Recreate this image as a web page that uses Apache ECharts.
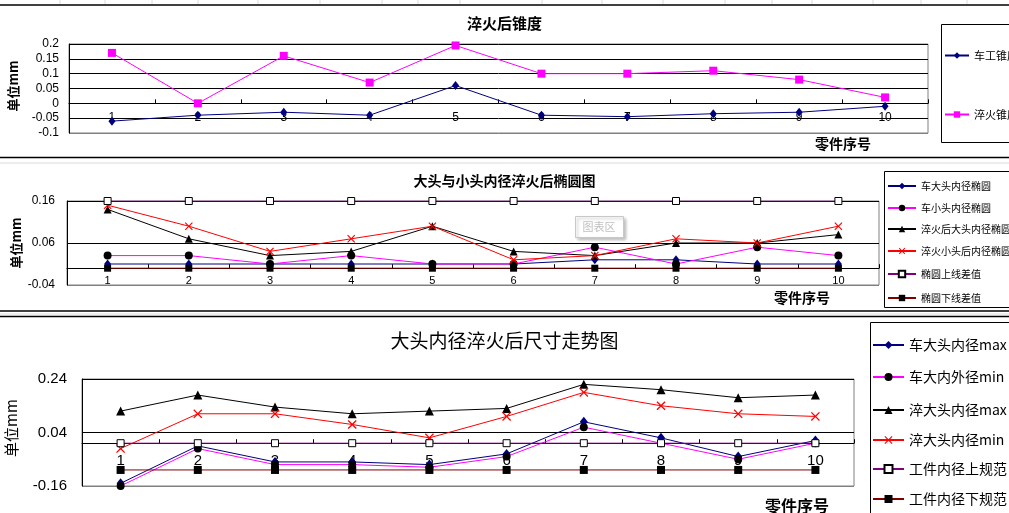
<!DOCTYPE html>
<html>
<head>
<meta charset="utf-8">
<script src="https://cdn.jsdelivr.net/npm/echarts@6/dist/echarts.min.js"></script>
<style>html,body{margin:0;padding:0;background:#fff;}#c{width:1009px;height:513px;}</style>
</head>
<body>
<div id="c"></div>
<script>
// ---------- data ----------
const categories = ['1','2','3','4','5','6','7','8','9','10'];

// Panel 1: 淬火后锥度
const taperTurning = [-0.06,-0.04,-0.03,-0.04,0.06,-0.04,-0.045,-0.035,-0.03,-0.01];
const taperQuench  = [0.17,0,0.16,0.07,0.195,0.1,0.1,0.11,0.08,0.02];

// Panel 2: 大头与小头内径淬火后椭圆图
const ovalBigTurn     = [0.01,0.01,0.01,0.01,0.01,0.01,0.02,0.02,0.01,0.01];
const ovalSmallTurn   = [0.03,0.03,0.01,0.03,0.01,0.01,0.05,0.01,0.05,0.03];
const ovalBigQuench   = [0.14,0.07,0.03,0.04,0.1,0.04,0.03,0.06,0.06,0.08];
const ovalSmallQuench = [0.15,0.1,0.04,0.07,0.1,0.02,0.03,0.07,0.06,0.1];
const ovalUpper       = [0.16,0.16,0.16,0.16,0.16,0.16,0.16,0.16,0.16,0.16];
const ovalLower       = [0,0,0,0,0,0,0,0,0,0];

// Panel 3: 大头内径淬火后尺寸走势图
const boreMaxTurn    = [-0.15,-0.01,-0.07,-0.07,-0.08,-0.04,0.08,0.02,-0.05,0.01];
const boreMinTurn    = [-0.16,-0.02,-0.08,-0.08,-0.09,-0.05,0.06,0,-0.06,0];
const boreMaxQuench  = [0.12,0.18,0.135,0.11,0.12,0.13,0.22,0.2,0.17,0.18];
const boreMinQuench  = [-0.02,0.11,0.11,0.07,0.02,0.1,0.19,0.14,0.11,0.1];
const boreUpperSpec  = [0,0,0,0,0,0,0,0,0,0];
const boreLowerSpec  = [-0.1,-0.1,-0.1,-0.1,-0.1,-0.1,-0.1,-0.1,-0.1,-0.1];

const titles = ['淬火后锥度','大头与小头内径淬火后椭圆图','大头内径淬火后尺寸走势图'];
const names1 = ['车工锥度','淬火锥度'];
const names2 = ['车大头内径椭圆','车小头内径椭圆','淬火后大头内径椭圆','淬火小头后内径椭圆','椭圆上线差值','椭圆下线差值'];
const names3 = ['车大头内径max','车大内外径min','淬大头内径max','淬大头内径min','工件内径上规范','工件内径下规范'];
const yNames = ['单位mm','单位mm','单位mm'];
const xName = '零件序号';

// ---------- styles ----------
const CJK = "'Noto Sans CJK SC', sans-serif";
const NUM = "'Liberation Sans', 'Noto Sans CJK SC', sans-serif";
const NAVY='#000080', MAG='#FF00FF', BLK='#000000', RED='#FF0000', PUR='#800080', DRED='#800000';
const XSYM = 'path://M0,1L1,0L5,4L9,0L10,1L6,5L10,9L9,10L5,6L1,10L0,9L4,5Z';

// grid layout (pixels) and value ranges
const grids = [
  {left:69, top:44, width:859, height:89},
  {left:67, top:201, width:812, height:84},
  {left:82, top:379, width:772, height:107}
];
const ranges = [
  {min:-0.1, max:0.2, interval:0.05},
  {min:-0.04, max:0.16, interval:0.1},
  {min:-0.16, max:0.24, interval:0.2}
];

function lineSeries(name, data, idx, lineColor, symbol, size, fill, border) {
  return {
    name, type:'line', data, xAxisIndex:idx, yAxisIndex:idx,
    symbol, symbolSize:size, showAllSymbol:true,
    lineStyle:{color:lineColor, width:1},
    itemStyle:{color:fill, borderColor:border||fill, borderWidth:border?1:0},
    emphasis:{disabled:true}, z:3
  };
}

function legendItem(name, left, cy, iw, ih, fs) {
  return {
    orient:'vertical', left, top: cy - ih/2, padding:0,
    itemWidth: iw, itemHeight: ih, itemGap: 4, selectedMode:false,
    data:[name],
    textStyle:{fontSize:fs, fontFamily:CJK, color:'#000', lineHeight: ih}
  };
}

// x axis crosses the value axis at 0 (Excel style): shift it up from the grid bottom
function xAxisDef(idx, fs, margin) {
  const g = grids[idx], r = ranges[idx];
  const offset = -g.height * (0 - r.min) / (r.max - r.min);
  return {
    type:'category', gridIndex:idx, data:categories, boundaryGap:true,
    position:'bottom', offset,
    axisLine:{onZero:false, lineStyle:{color:'#000', width:1}},
    axisTick:{show:true, inside:true, length:4, alignWithLabel:false, lineStyle:{color:'#000'}},
    axisLabel:{fontSize:fs, fontFamily:NUM, color:'#000', margin, interval:0},
    splitLine:{show:false}
  };
}

function yAxisDef(idx, fs, margin, colors) {
  const r = ranges[idx];
  return {
    type:'value', gridIndex:idx, min:r.min, max:r.max, interval:r.interval,
    axisLine:{show:true, lineStyle:{color:'#000'}},
    axisTick:{show:false},
    axisLabel:{fontSize:fs, fontFamily:NUM, color:'#000', margin},
    splitLine:{show:true, lineStyle:{color:colors, width:1}}
  };
}

const hline = (y, color, w) => ({type:'line', shape:{x1:0,y1:y,x2:1009,y2:y}, style:{stroke:color, lineWidth:w}, silent:true, z:10});
const cellX = [60,105,152,198,258,320,382,418,460,542,602,663,725,772,812,873,921,967];

const graphic = [
  ...cellX.map(x => ({type:'line', shape:{x1:x,y1:0,x2:x,y2:4}, style:{stroke:'#dcdcdc', lineWidth:1}, silent:true})),
  hline(5, '#000', 1.5),
  hline(157.5, '#000', 1.5),
  hline(163, '#dadada', 1),
  hline(311, '#000', 1.5),
  hline(314, '#dadada', 1),
  hline(316.5, '#000', 1.5),
  // legend boxes
  {type:'rect', shape:{x:941.5,y:24.5,width:100,height:118}, style:{fill:'none', stroke:'#000', lineWidth:1}, silent:true},
  {type:'rect', shape:{x:884.5,y:171.5,width:140,height:136}, style:{fill:'none', stroke:'#000', lineWidth:1}, silent:true},
  {type:'rect', shape:{x:870.5,y:322.5,width:150,height:210}, style:{fill:'none', stroke:'#000', lineWidth:1}, silent:true},
  // axis names
  {type:'text', x:843, y:144, style:{text:xName, font:"bold 14px 'Noto Sans CJK SC'", fill:'#000', align:'center', verticalAlign:'middle'}},
  {type:'text', x:802, y:298, style:{text:xName, font:"bold 14px 'Noto Sans CJK SC'", fill:'#000', align:'center', verticalAlign:'middle'}},
  {type:'text', x:797, y:506, style:{text:xName, font:"bold 16px 'Noto Sans CJK SC'", fill:'#000', align:'center', verticalAlign:'middle'}},
  {type:'text', x:13, y:86, rotation:Math.PI/2, style:{text:yNames[0], font:"bold 13px 'Noto Sans CJK SC'", fill:'#000', align:'center', verticalAlign:'middle'}},
  {type:'text', x:16, y:243, rotation:Math.PI/2, style:{text:yNames[1], font:"bold 13px 'Noto Sans CJK SC'", fill:'#000', align:'center', verticalAlign:'middle'}},
  {type:'text', x:11, y:428, rotation:Math.PI/2, style:{text:yNames[2], font:"15px 'Noto Sans CJK SC'", fill:'#000', align:'center', verticalAlign:'middle'}},
  // Excel hover tip "图表区"
  {type:'rect', shape:{x:575.5,y:216.5,width:48,height:21}, style:{fill:'#fff', stroke:'#c8c8c8', lineWidth:1, shadowBlur:3, shadowOffsetX:2, shadowOffsetY:2, shadowColor:'rgba(0,0,0,0.25)'}, z:20},
  {type:'text', x:599, y:227, z:21, style:{text:'图表区', font:"11px 'Noto Sans CJK SC'", fill:'#c0c0c0', align:'center', verticalAlign:'middle'}}
];

const option = {
  animation:false,
  backgroundColor:'#fff',
  title:[
    {text:titles[0], left:'center', top:16, padding:0, textStyle:{fontSize:15, fontWeight:'bold', fontFamily:CJK, color:'#000'}},
    {text:titles[1], left:'center', top:174, padding:0, textStyle:{fontSize:14, fontWeight:'bold', fontFamily:CJK, color:'#000'}},
    {text:titles[2], left:'center', top:331, padding:0, textStyle:{fontSize:19, fontWeight:'normal', fontFamily:CJK, color:'#000'}}
  ],
  grid: grids.map(g => ({...g, show:true, borderColor:'#808080', borderWidth:1, backgroundColor:'#fff'})),
  xAxis:[ xAxisDef(0, 12, 8), xAxisDef(1, 11, 7), xAxisDef(2, 15, 10) ],
  yAxis:[
    yAxisDef(0, 12, 10, ['#808080','#000','#000','#000','#000','#000','#000']),
    yAxisDef(1, 12, 12, ['#808080','#000','#000']),
    yAxisDef(2, 15, 15, ['#808080','#000','#000'])
  ],
  legend:[
    legendItem(names1[0], 944, 54, 24, 8, 11),
    legendItem(names1[1], 944, 113, 24, 8, 11),
    ...names2.map((n,i) => legendItem(n, 887, [185,207,228,250,273,297][i], 28, 8, 10)),
    ...names3.map((n,i) => legendItem(n, 872, [343,375,408,438,467,497][i], 31, 10, 14))
  ],
  series:[
    lineSeries(names1[0], taperTurning, 0, NAVY, 'diamond', [7,9], NAVY),
    lineSeries(names1[1], taperQuench, 0, MAG, 'rect', 8, MAG),

    lineSeries(names2[0], ovalBigTurn, 1, NAVY, 'diamond', [7,9], NAVY),
    lineSeries(names2[1], ovalSmallTurn, 1, MAG, 'circle', 8, BLK),
    lineSeries(names2[2], ovalBigQuench, 1, BLK, 'triangle', 8, BLK),
    lineSeries(names2[3], ovalSmallQuench, 1, RED, XSYM, 8, RED),
    lineSeries(names2[4], ovalUpper, 1, PUR, 'rect', 7, '#fff', BLK),
    lineSeries(names2[5], ovalLower, 1, DRED, 'rect', 7, BLK),

    lineSeries(names3[0], boreMaxTurn, 2, NAVY, 'diamond', [8,10], NAVY),
    lineSeries(names3[1], boreMinTurn, 2, MAG, 'circle', 8, BLK),
    lineSeries(names3[2], boreMaxQuench, 2, BLK, 'triangle', 9, BLK),
    lineSeries(names3[3], boreMinQuench, 2, RED, XSYM, 9, RED),
    lineSeries(names3[4], boreUpperSpec, 2, PUR, 'rect', 7, '#fff', BLK),
    lineSeries(names3[5], boreLowerSpec, 2, DRED, 'rect', 8, BLK)
  ],
  graphic
};

const chart = echarts.init(document.getElementById('c'), null, {renderer:'canvas'});
chart.setOption(option);
</script>
</body>
</html>
